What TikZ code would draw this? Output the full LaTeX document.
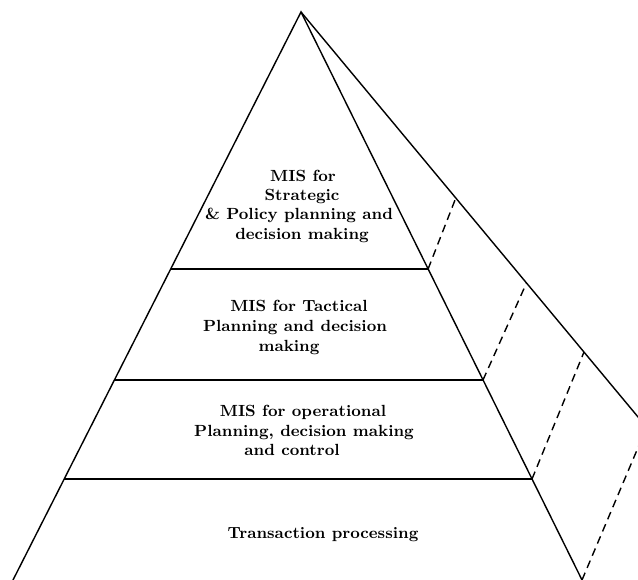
\documentclass[tikz,border=0pt]{standalone}
\usetikzlibrary{positioning}

\tikzset{lbl/.style={font=\fontsize{9.2}{11}\selectfont\bfseries, anchor=base},
	hid/.style={dash pattern=on 4.5pt off 3pt}}

\begin{document}
\begin{tikzpicture}[x=0.02cm, y=0.02cm, thick]
		\tikzstyle{every node}+=[inner sep=0pt]
		\clip (0,0) rectangle (638,-580);
		% corners of the pyramid
		\coordinate (T) at (301,-12);
		\coordinate (L) at (13,-580);
		\coordinate (R) at (582,-580);
		\coordinate (B) at (646.6,-427.3);
		% level lines
		\coordinate (L1) at (170.7,-269);
		\coordinate (R1) at (428.1,-269);
		\coordinate (L2) at (114.4,-380);
		\coordinate (R2) at (483,-380);
		\coordinate (L3) at (64.2,-479);
		\coordinate (R3) at (532,-479);
		\coordinate (B1) at (455.8,-198);
		\coordinate (B2) at (526.5,-283);
		\coordinate (B3) at (584,-352);
		\draw [black] (L) -- (T) -- (R);
		\draw [black] (T) -- (B);
		\draw [black] (L1) -- (R1);
		\draw [black] (L2) -- (R2);
		\draw [black] (L3) -- (R3);
		\draw [black, hid] (R1) -- (B1);
		\draw [black, hid] (R2) -- (B2);
		\draw [black, hid] (R3) -- (B3);
		\draw [black, hid] (R) -- (B);
		% texts
		\draw (303,-182) node[lbl] (s1) {MIS for};
		\draw (302,-201) node[lbl] (s2) {Strategic};
		\draw (299,-220) node[lbl] (s3) {\& Policy planning and};
		\draw (302,-240) node[lbl] (s4) {decision making};
		\draw (299,-312) node[lbl] (t1) {MIS for Tactical};
		\draw (295,-332) node[lbl] (t2) {Planning and decision};
		\draw (289,-352) node[lbl] (t3) {making};
		\draw (303,-416) node[lbl] (o1) {MIS for operational};
		\draw (304,-436) node[lbl] (o2) {Planning, decision making};
		\draw (292,-455) node[lbl] (o3) {and control};
		\draw (323,-538) node[lbl] (p1) {Transaction processing};
\end{tikzpicture}
\end{document}
